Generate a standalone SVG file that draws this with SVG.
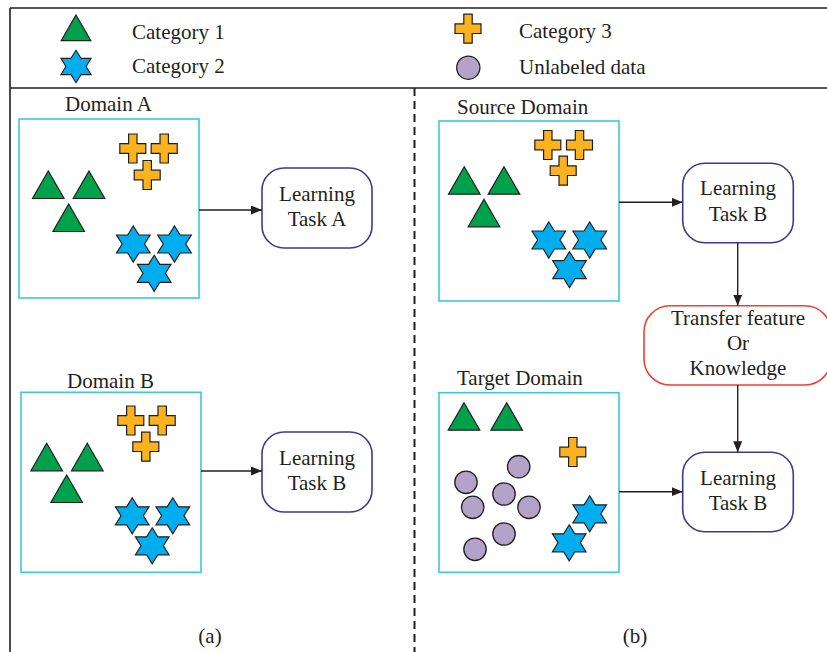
<svg xmlns="http://www.w3.org/2000/svg" xmlns:xlink="http://www.w3.org/1999/xlink" width="827" height="652" viewBox="0 0 827 652">
<style>
  text { font-family: "Liberation Serif", "Times New Roman", serif; font-size: 21px; fill: #231f20; }
  .mid { text-anchor: middle; }
  .frame { stroke: #231f20; stroke-width: 1.6; fill: none; }
  .dash { stroke: #231f20; stroke-width: 2; stroke-dasharray: 8 5; fill: none; }
  .domain { fill: #ffffff; stroke: #3ec6e0; stroke-width: 1.6; }
  .task { fill: #ffffff; stroke: #3d3a94; stroke-width: 1.6; }
  .transfer { fill: #ffffff; stroke: #ee4136; stroke-width: 1.6; }
  .tri { fill: #00a14b; stroke: #231f20; stroke-width: 1.2; stroke-linejoin: miter; }
  .star { fill: #00aeef; stroke: #231f20; stroke-width: 1.2; }
  .cross { fill: #fbb21f; stroke: #231f20; stroke-width: 1.2; }
  .dot { fill: #b3a3c9; stroke: #231f20; stroke-width: 1.3; }
  .conn { stroke: #231f20; stroke-width: 1.4; fill: none; marker-end: url(#arrow); }
</style>
<defs>
  <marker id="arrow" markerUnits="userSpaceOnUse" markerWidth="12" markerHeight="10" refX="11" refY="4.5" orient="auto">
    <path d="M0,0 L11,4.5 L0,9 Z" fill="#231f20"/>
  </marker>
  <path id="tri" class="tri" d="M0,0 L15.8,27.5 L-15.8,27.5 Z"/>
  <path id="star" class="star" d="M0,-18 L5.6,-9 L16.8,-9 L11.2,0 L16.8,9 L5.6,9 L0,18 L-5.6,9 L-16.8,9 L-11.2,0 L-16.8,-9 L-5.6,-9 Z"/>
  <path id="cross" class="cross" d="M-4.2,-14.5 H4.2 V-4.8 H13 V4.8 H4.2 V14.5 H-4.2 V4.8 H-13 V-4.8 H-4.2 Z"/>
</defs>

<g id="frame">
  <line class="frame" x1="10" y1="8" x2="827" y2="8"/>
  <line class="frame" x1="10" y1="8" x2="10" y2="652"/>
  <line class="frame" x1="10" y1="88" x2="827" y2="88"/>
  <line class="dash" x1="414.5" y1="88" x2="414.5" y2="652"/>
</g>

<g id="legend">
  <path class="tri" d="M76,15 L90.8,40.7 L61.2,40.7 Z"/>
  <text x="132" y="39">Category 1</text>
  <use xlink:href="#star" href="#star" transform="translate(76,66.5) scale(0.9)"/>
  <text x="132" y="73">Category 2</text>
  <use href="#cross" x="468" y="28.7"/>
  <text x="519" y="38">Category 3</text>
  <circle class="dot" cx="468.3" cy="67.7" r="11.6"/>
  <text x="519" y="74">Unlabeled data</text>
</g>

<g id="domainA">
  <text x="65" y="111">Domain A</text>
  <rect class="domain" x="19" y="119" width="180" height="179"/>
  <use href="#tri" x="48.3" y="171"/>
  <use href="#tri" x="89" y="171"/>
  <use href="#tri" x="68.7" y="204"/>
  <use href="#cross" x="132.8" y="148.5"/>
  <use href="#cross" x="164.2" y="148.5"/>
  <use href="#cross" x="147.2" y="175"/>
  <use href="#star" x="133.3" y="244"/>
  <use href="#star" x="174.5" y="244"/>
  <use href="#star" x="154.2" y="273.3"/>
</g>

<g id="taskA">
  <rect class="task" x="262" y="168" width="110" height="80" rx="22"/>
  <text class="mid" x="317" y="201">Learning</text>
  <text class="mid" x="317" y="226">Task A</text>
</g>

<g id="domainB">
  <text x="67" y="388">Domain B</text>
  <rect class="domain" x="21" y="392.3" width="180" height="180"/>
  <use href="#tri" x="46.7" y="443.3"/>
  <use href="#tri" x="87.3" y="443.3"/>
  <use href="#tri" x="66.7" y="475"/>
  <use href="#cross" x="130.8" y="420.5"/>
  <use href="#cross" x="162.2" y="420.5"/>
  <use href="#cross" x="145.8" y="446.7"/>
  <use href="#star" x="132.2" y="515.8"/>
  <use href="#star" x="172.8" y="515.8"/>
  <use href="#star" x="152.2" y="545.8"/>
</g>

<g id="taskB_a">
  <rect class="task" x="262" y="432" width="110" height="80" rx="22"/>
  <text class="mid" x="317" y="465">Learning</text>
  <text class="mid" x="317" y="490">Task B</text>
</g>

<g id="sourceDomain">
  <text x="457" y="114">Source Domain</text>
  <rect class="domain" x="439" y="121" width="180" height="180"/>
  <use href="#tri" x="464.3" y="166.7"/>
  <use href="#tri" x="504" y="166.7"/>
  <use href="#tri" x="484" y="199.3"/>
  <use href="#cross" x="547.8" y="145"/>
  <use href="#cross" x="579.5" y="145"/>
  <use href="#cross" x="563.2" y="170.7"/>
  <use href="#star" x="548.8" y="240"/>
  <use href="#star" x="589.7" y="240"/>
  <use href="#star" x="569.5" y="269.7"/>
</g>

<g id="taskB_source">
  <rect class="task" x="682.7" y="163.3" width="110.6" height="79.4" rx="22"/>
  <text class="mid" x="738" y="195">Learning</text>
  <text class="mid" x="738" y="221">Task B</text>
</g>

<g id="transfer">
  <rect class="transfer" x="644" y="305.7" width="187" height="79.3" rx="26"/>
  <text class="mid" x="738" y="325">Transfer feature</text>
  <text class="mid" x="738" y="350">Or</text>
  <text class="mid" x="738" y="375">Knowledge</text>
</g>

<g id="targetDomain">
  <text x="457" y="385">Target Domain</text>
  <rect class="domain" x="439" y="392.7" width="180" height="179.6"/>
  <use href="#tri" x="464" y="402.7"/>
  <use href="#tri" x="506.7" y="402.7"/>
  <use href="#cross" x="572.8" y="452"/>
  <circle class="dot" cx="518.7" cy="466.7" r="11.2"/>
  <circle class="dot" cx="466" cy="482.3" r="11.2"/>
  <circle class="dot" cx="504" cy="494" r="11.2"/>
  <circle class="dot" cx="472.7" cy="507.3" r="11.2"/>
  <circle class="dot" cx="529" cy="507.3" r="11.2"/>
  <circle class="dot" cx="504" cy="534" r="11.2"/>
  <circle class="dot" cx="475" cy="549.3" r="11.2"/>
  <use href="#star" x="589.7" y="513.8"/>
  <use href="#star" x="569.2" y="542.8"/>
</g>

<g id="taskB_target">
  <rect class="task" x="682.7" y="452.3" width="110.6" height="79.4" rx="22"/>
  <text class="mid" x="738" y="485">Learning</text>
  <text class="mid" x="738" y="510">Task B</text>
</g>

<g id="captions">
  <text class="mid" x="210" y="643">(a)</text>
  <text class="mid" x="635" y="643">(b)</text>
</g>

<g id="connectors">
  <line class="conn" x1="199" y1="210" x2="262" y2="210"/>
  <line class="conn" x1="201" y1="471" x2="262" y2="471"/>
  <line class="conn" x1="619" y1="202.3" x2="682.7" y2="202.3"/>
  <line class="conn" x1="737.7" y1="242.7" x2="737.7" y2="305.7"/>
  <line class="conn" x1="737.7" y1="385" x2="737.7" y2="452.3"/>
  <line class="conn" x1="619" y1="491.7" x2="682.7" y2="491.7"/>
</g>
</svg>
